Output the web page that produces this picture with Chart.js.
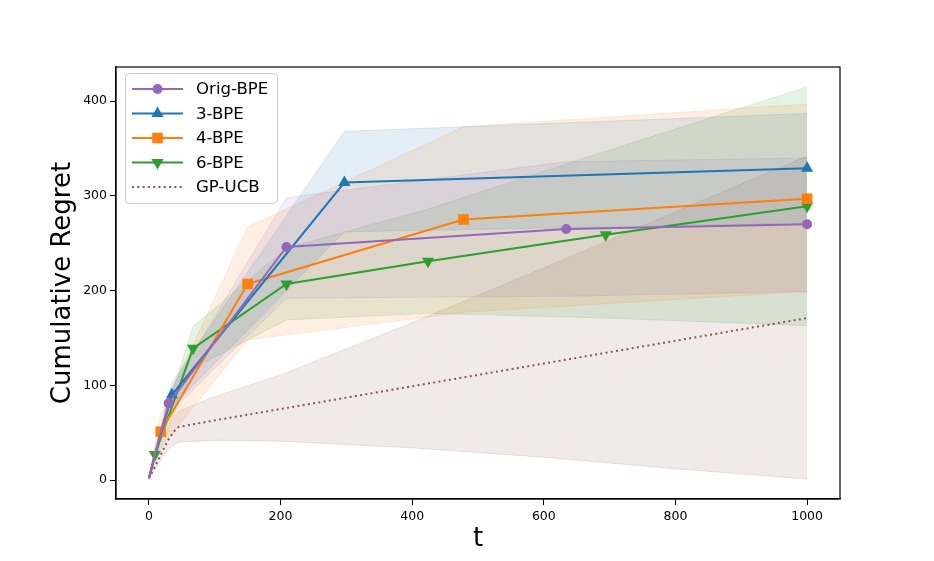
<!DOCTYPE html>
<html>

<head>
	<title>Cumulative Regret</title>
	<script src="https://cdn.jsdelivr.net/npm/chart.js"></script>
	<style>
		body { margin: 0; background: #fff; }
		#wrap { width: 934px; height: 561px; }
	</style>
</head>

<body>
	<div id="wrap"><canvas id="canvas"></canvas></div>

	<script>
		// values
		const xTicks = [0, 200, 400, 600, 800, 1000]
		const yTicks = [0, 100, 200, 300, 400]

		const origT = [0, 30, 209, 634, 1000]
		const origMean = [2, 81, 246, 265, 270]
		const origHi = [2, 92, 298, 336, 340]
		const origLo = [2, 70, 192, 194, 199]

		const bpe3T = [0, 35, 297, 1000]
		const bpe3Mean = [2, 90, 314, 329]
		const bpe3Hi = [2, 103, 368, 387]
		const bpe3Lo = [2, 77, 262, 271]

		const bpe4T = [0, 18, 150, 478, 1000]
		const bpe4Mean = [2, 51, 207, 275, 297]
		const bpe4Hi = [2, 70, 267, 373, 397]
		const bpe4Lo = [2, 34, 148, 177, 199]

		const bpe6T = [0, 9, 67, 209, 424, 694, 1000]
		const bpe6Mean = [2, 27, 139, 207, 231, 259, 289]
		const bpe6Hi = [2, 34, 162, 245, 286, 347, 415]
		const bpe6Lo = [2, 20, 118, 169, 176, 171, 163]

		const gpT = [0, 9, 19, 29, 40, 45, 100, 200, 400, 600, 800, 1000]
		const gpMean = [2, 14, 28, 42, 53, 56, 63, 75, 99, 123, 147, 171]
		const gpHi = [2, 17, 34, 51, 68, 73, 88, 111, 166, 224, 283, 342]
		const gpLo = [2, 11, 22, 33, 38, 40, 42, 41, 34, 24, 12, 1]

		const series = [
			{ label: 'Orig-BPE', t: origT, mean: origMean, hi: origHi, lo: origLo, rgb: '148,103,189', style: 'circle', r: 5 },
			{ label: '3-BPE', t: bpe3T, mean: bpe3Mean, hi: bpe3Hi, lo: bpe3Lo, rgb: '31,119,180', style: 'triangle', r: 7 },
			{ label: '4-BPE', t: bpe4T, mean: bpe4Mean, hi: bpe4Hi, lo: bpe4Lo, rgb: '255,127,14', style: 'rect', r: 7.5 },
			{ label: '6-BPE', t: bpe6T, mean: bpe6Mean, hi: bpe6Hi, lo: bpe6Lo, rgb: '44,160,44', style: 'triangle', r: 7, rot: 180 },
			{ label: 'GP-UCB', t: gpT, mean: gpMean, hi: gpHi, lo: gpLo, rgb: '140,86,75', style: false, r: 0, dash: [2, 3.3] }
		]

		const pts = (t, v) => t.map((x, i) => ({ x: x, y: v[i] }))

		const datasets = []
		series.forEach((s, k) => {
			const col = 'rgb(' + s.rgb + ')'
			datasets.push({
				label: s.label,
				data: pts(s.t, s.mean),
				borderColor: col,
				backgroundColor: col,
				borderWidth: 2,
				borderDash: s.dash || [],
				fill: false,
				tension: 0,
				pointStyle: s.style,
				pointRotation: s.rot || 0,
				pointRadius: c => (c.dataIndex === 0 ? 0 : s.r),
				pointBorderWidth: 0,
				order: 1 + k
			})
		})
		series.forEach((s, k) => {
			const lowIdx = datasets.length + 1
			datasets.push({
				label: s.label + ' hi',
				data: pts(s.t, s.hi),
				borderColor: 'rgba(' + s.rgb + ',0.15)',
				backgroundColor: 'rgba(' + s.rgb + ',0.12)',
				borderWidth: 1,
				pointRadius: 0,
				tension: 0,
				fill: lowIdx,
				order: 20 + k
			})
			datasets.push({
				label: s.label + ' lo',
				data: pts(s.t, s.lo),
				borderColor: 'rgba(' + s.rgb + ',0.15)',
				borderWidth: 1,
				pointRadius: 0,
				tension: 0,
				fill: false,
				order: 20 + k
			})
		})

		function marker(ctx, style, x, y, r, rot) {
			ctx.beginPath()
			if (style === 'circle') {
				ctx.arc(x, y, r, 0, Math.PI * 2)
			} else if (style === 'rect') {
				const h = r * Math.SQRT1_2
				ctx.rect(x - h, y - h, 2 * h, 2 * h)
			} else if (style === 'triangle') {
				const d = rot ? -1 : 1
				ctx.moveTo(x, y - d * r)
				ctx.lineTo(x - r * 0.866, y + d * r * 0.5)
				ctx.lineTo(x + r * 0.866, y + d * r * 0.5)
				ctx.closePath()
			}
			ctx.fill()
		}

		const frameAndLegend = {
			id: 'frameAndLegend',
			afterDraw(chart) {
				const ctx = chart.ctx
				const a = chart.chartArea
				ctx.save()
				ctx.strokeStyle = '#000'
				ctx.lineWidth = 1.2
				ctx.strokeRect(a.left, a.top, a.right - a.left, a.bottom - a.top)

				// legend box
				const bx = 125.5, by = 73.5, bw = 152, bh = 130, br = 4
				ctx.beginPath()
				ctx.roundRect(bx, by, bw, bh, br)
				ctx.fillStyle = 'rgba(255,255,255,0.8)'
				ctx.fill()
				ctx.strokeStyle = '#cccccc'
				ctx.lineWidth = 1
				ctx.stroke()

				ctx.font = '16.6px "DejaVu Sans"'
				ctx.textBaseline = 'middle'
				series.forEach((s, i) => {
					const y = 89 + i * 24.5
					const col = 'rgb(' + s.rgb + ')'
					ctx.strokeStyle = col
					ctx.fillStyle = col
					ctx.lineWidth = 2
					ctx.setLineDash(s.dash || [])
					ctx.beginPath()
					ctx.moveTo(132, y)
					ctx.lineTo(183, y)
					ctx.stroke()
					ctx.setLineDash([])
					if (s.style) marker(ctx, s.style, 157.5, y, s.r, s.rot)
					ctx.fillStyle = '#000'
					ctx.fillText(s.label, 196, y + 1)
				})
				ctx.restore()
			}
		}

		const tickFont = { family: 'DejaVu Sans', size: 12.5 }
		const titleFont = { family: 'DejaVu Sans', size: 26 }

		const ctx = document.querySelector('#canvas').getContext('2d')
		const chart = new Chart(ctx, {
			type: 'line',
			data: { datasets: datasets },
			options: {
				responsive: true,
				maintainAspectRatio: false,
				animation: false,
				layout: { padding: { left: 0, right: 94, top: 67, bottom: 0 } },
				plugins: {
					legend: { display: false },
					tooltip: { enabled: false }
				},
				scales: {
					x: {
						type: 'linear',
						min: -50,
						max: 1050,
						afterBuildTicks: s => { s.ticks = xTicks.map(v => ({ value: v })) },
						afterFit: s => { s.height = 62 },
						grid: { display: true, drawOnChartArea: false, drawTicks: true, tickLength: 6, color: '#000' },
						border: { display: true, color: '#000', width: 1.2 },
						ticks: { color: '#000', font: tickFont, padding: 4, maxRotation: 0, callback: v => String(v) },
						title: { display: true, text: 't', color: '#000', font: titleFont, padding: { top: 0, bottom: 6 } }
					},
					y: {
						type: 'linear',
						min: -20,
						max: 436,
						afterBuildTicks: s => { s.ticks = yTicks.map(v => ({ value: v })) },
						afterFit: s => { s.width = 116 },
						grid: { display: true, drawOnChartArea: false, drawTicks: true, tickLength: 6, color: '#000' },
						border: { display: true, color: '#000', width: 1.2 },
						ticks: { color: '#000', font: tickFont, padding: 3, callback: v => String(v) },
						title: { display: true, text: 'Cumulative Regret', color: '#000', font: titleFont, padding: { top: 48, bottom: 0 } }
					}
				}
			},
			plugins: [frameAndLegend]
		});
	</script>
</body>

</html>
